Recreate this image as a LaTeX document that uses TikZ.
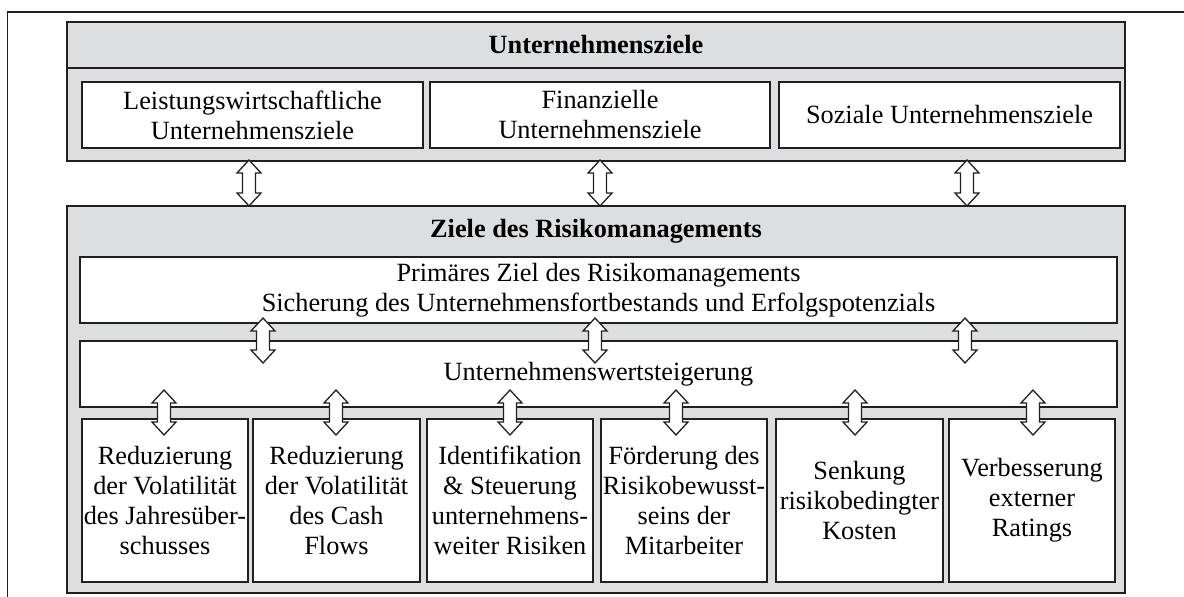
\documentclass[tikz,border=0pt]{standalone}
\usepackage{fontspec}
\setmainfont{Liberation Serif}
\definecolor{panelgray}{RGB}{221,222,224}
\definecolor{inkline}{RGB}{35,31,32}
\tikzset{
  panel/.style={draw=inkline, fill=panelgray, line width=1.4pt, inner sep=0pt},
  goalbox/.style={draw=inkline, fill=white, line width=1.4pt, inner sep=0pt, align=center,
    font=\fontsize{26.3}{30}\selectfont},
  headline/.style={inner sep=0pt, font=\fontsize{26.3}{30}\selectfont\bfseries},
  linkarrow/.style={draw=inkline, fill=white, line width=1.3pt, line join=miter},
}
% vertical hollow double arrow: x, top tip, bottom tip
\newcommand{\vdarrow}[3]{%
  \draw[linkarrow] (#1,#2) -- (#1+12,#2+13) -- (#1+6.5,#2+13) -- (#1+6.5,#3-13)
    -- (#1+12,#3-13) -- (#1,#3) -- (#1-12,#3-13) -- (#1-6.5,#3-13)
    -- (#1-6.5,#2+13) -- (#1-12,#2+13) -- cycle;}
\begin{document}
\begin{tikzpicture}[x=1pt, y=-1pt]
\useasboundingbox (0,0) rectangle (1184,597);
% page frame
\draw[inkline, line width=1.5pt] (7.5,597) -- (7.5,12) -- (1184,12);

% upper panel: company goals
\node[panel, minimum width=1058pt, minimum height=139pt] (uz) at (596,91.5) {};
\draw[inkline, line width=1.4pt] (uz.west |- 0,68) -- (uz.east |- 0,68);
\node[headline] (uztitle) at (596,45) {Unternehmensziele};
\node[goalbox, minimum width=341pt, minimum height=66pt] (lw) at (252.5,115)
  {Leistungswirtschaftliche\\Unternehmensziele};
\node[goalbox, minimum width=340pt, minimum height=66pt] (fi) at (600,115)
  {Finanzielle\\Unternehmensziele};
\node[goalbox, minimum width=341pt, minimum height=66pt] (so) at (949.5,115)
  {Soziale Unternehmensziele};

% lower panel: risk management goals
\node[panel, minimum width=1058pt, minimum height=387pt] (rm) at (596,399.5) {};
\node[headline] (rmtitle) at (596,231) {Ziele des Risikomanagements};
\node[goalbox, minimum width=1037pt, minimum height=66pt] (prim) at (598.5,290)
  {Primäres Ziel des Risikomanagements\\Sicherung des Unternehmensfortbestands und Erfolgspotenzials};
\node[goalbox, minimum width=1037pt, minimum height=66pt] (uws) at (598.5,374)
  {Unternehmenswertsteigerung};

\node[goalbox, minimum width=166pt, minimum height=163pt] (b1) at (165,500.5)
  {Reduzierung\\der Volatilität\\des Jahresüber-\\schusses};
\node[goalbox, minimum width=167pt, minimum height=163pt] (b2) at (336.5,500.5)
  {Reduzierung\\der Volatilität\\des Cash\\Flows};
\node[goalbox, minimum width=166pt, minimum height=163pt] (b3) at (510,500.5)
  {Identifikation\\\& Steuerung\\unternehmens-\\weiter Risiken};
\node[goalbox, minimum width=166pt, minimum height=163pt] (b4) at (684,500.5)
  {Förderung des\\Risikobewusst-\\seins der\\Mitarbeiter};
\node[goalbox, minimum width=167pt, minimum height=163pt] (b5) at (859.5,500.5)
  {Senkung\\risikobedingter\\Kosten};
\node[goalbox, minimum width=166pt, minimum height=163pt] (b6) at (1032,500.5)
  {Verbesserung\\externer\\Ratings};

% links between the levels
\vdarrow{249}{160}{206}
\vdarrow{600}{160}{206}
\vdarrow{967}{160}{206}

\vdarrow{263}{318}{363}
\vdarrow{595}{318}{363}
\vdarrow{965}{318}{363}

\vdarrow{164}{390}{435}
\vdarrow{336}{390}{435}
\vdarrow{510}{390}{435}
\vdarrow{676}{390}{435}
\vdarrow{855}{390}{435}
\vdarrow{1033}{390}{435}
\end{tikzpicture}
\end{document}
